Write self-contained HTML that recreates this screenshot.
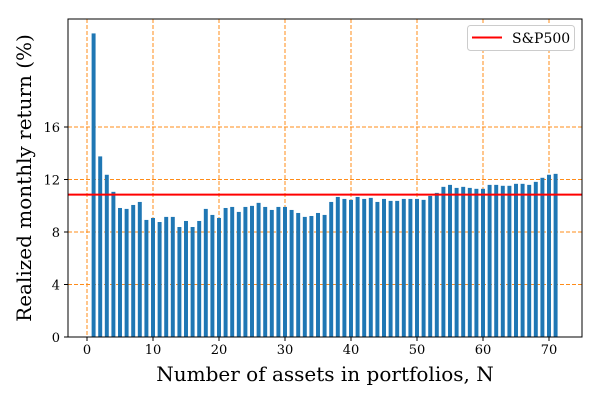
<!DOCTYPE html>
<html><head><meta charset="utf-8"><style>
body{margin:0;background:#fff}
svg text{font-family:"DejaVu Serif","Liberation Serif",serif}
</style></head><body>
<svg id="chart" width="600" height="400" viewBox="0 0 600 400">
<rect x="0" y="0" width="600" height="400" fill="#fff"/>
<g id="grid"></g><g id="bars"></g><g id="axes"></g>
</svg>
<script>
const nValues = [];
for (let i = 1; i <= 71; i++) nValues.push(i);
const returns = [23.13,13.76,12.36,11.06,9.83,9.76,10.06,10.29,8.92,9.07,8.76,9.15,9.15,8.38,8.84,8.38,8.84,9.76,9.30,9.07,9.83,9.91,9.53,9.91,9.99,10.22,9.91,9.68,9.91,9.91,9.68,9.45,9.15,9.22,9.45,9.30,10.29,10.67,10.52,10.45,10.67,10.52,10.60,10.29,10.52,10.37,10.37,10.52,10.52,10.52,10.45,10.75,10.98,11.44,11.59,11.36,11.44,11.36,11.29,11.29,11.59,11.59,11.52,11.52,11.67,11.67,11.59,11.82,12.13,12.36,12.43];
const spReturn = 10.85;
const xTicks = [0,10,20,30,40,50,60,70];
const yTicks = [0,4,8,12,16];

const L=68,R=582,T=19,B=337;
const xS=v=>87+v*(549-87)/70;
const yS=v=>B-v*(B-127)/16;
const NS="http://www.w3.org/2000/svg";
function mk(tag,attrs,parent){const e=document.createElementNS(NS,tag);for(const k in attrs)e.setAttribute(k,attrs[k]);parent.appendChild(e);return e;}
const grid=document.getElementById('grid'),bars=document.getElementById('bars'),axes=document.getElementById('axes');

xTicks.forEach(t=>{
  const g=mk('line',{x1:xS(t),x2:xS(t),y1:T,y2:B,stroke:'#ff8c1a','stroke-width':1,'stroke-dasharray':'4,2'},grid);
  
  
  const tk=mk('line',{x1:xS(t),x2:xS(t),y1:B,y2:B+4,stroke:'#000'},axes);
  
  
  const lb=mk('text',{x:xS(t),y:B+17,'text-anchor':'middle','font-size':13},axes);
  lb.textContent=t;
  
  
});
yTicks.forEach(t=>{
  if(t>0){
    const g=mk('line',{x1:L,x2:R,y1:yS(t),y2:yS(t),stroke:'#ff8c1a','stroke-width':1,'stroke-dasharray':'4,2'},grid);
    
    
  }
  const tk=mk('line',{x1:L-4,x2:L,y1:yS(t),y2:yS(t),stroke:'#000'},axes);
  
  
  const lb=mk('text',{x:L-8,y:yS(t)+5,'text-anchor':'end','font-size':13},axes);
  lb.textContent=t;
  
  
});
const bw=0.6*(xS(1)-xS(0));
nValues.forEach((n,i)=>{
  const r=mk('rect',{x:xS(n)-bw/2,y:yS(returns[i]),width:bw,height:yS(0)-yS(returns[i]),fill:'#1f77b4'},bars);
  
  
});
const sp=mk('line',{x1:L,x2:R,y1:yS(spReturn),y2:yS(spReturn),stroke:'#ff0000','stroke-width':2},bars);



const fr=mk('rect',{x:L,y:T,width:R-L,height:B-T,fill:'none',stroke:'#000','stroke-width':1},axes);



const lg=mk('g',{},axes);


mk('rect',{x:467.5,y:25.5,width:107,height:25,rx:3,fill:'#fff',stroke:'#ccc'},lg);
mk('line',{x1:472,x2:502,y1:37.5,y2:37.5,stroke:'#ff0000','stroke-width':2},lg);
const lt=mk('text',{x:512,y:43,'font-size':14},lg);
lt.textContent='S&P500';



const xt=mk('text',{x:(L+R)/2,y:381,'text-anchor':'middle','font-size':20},axes);
xt.textContent='Number of assets in portfolios, N';


const yt=mk('text',{x:0,y:0,'text-anchor':'middle','font-size':20,transform:'translate(31,178) rotate(-90)'},axes);
yt.textContent='Realized monthly return (%)';


</script>
</body></html>
